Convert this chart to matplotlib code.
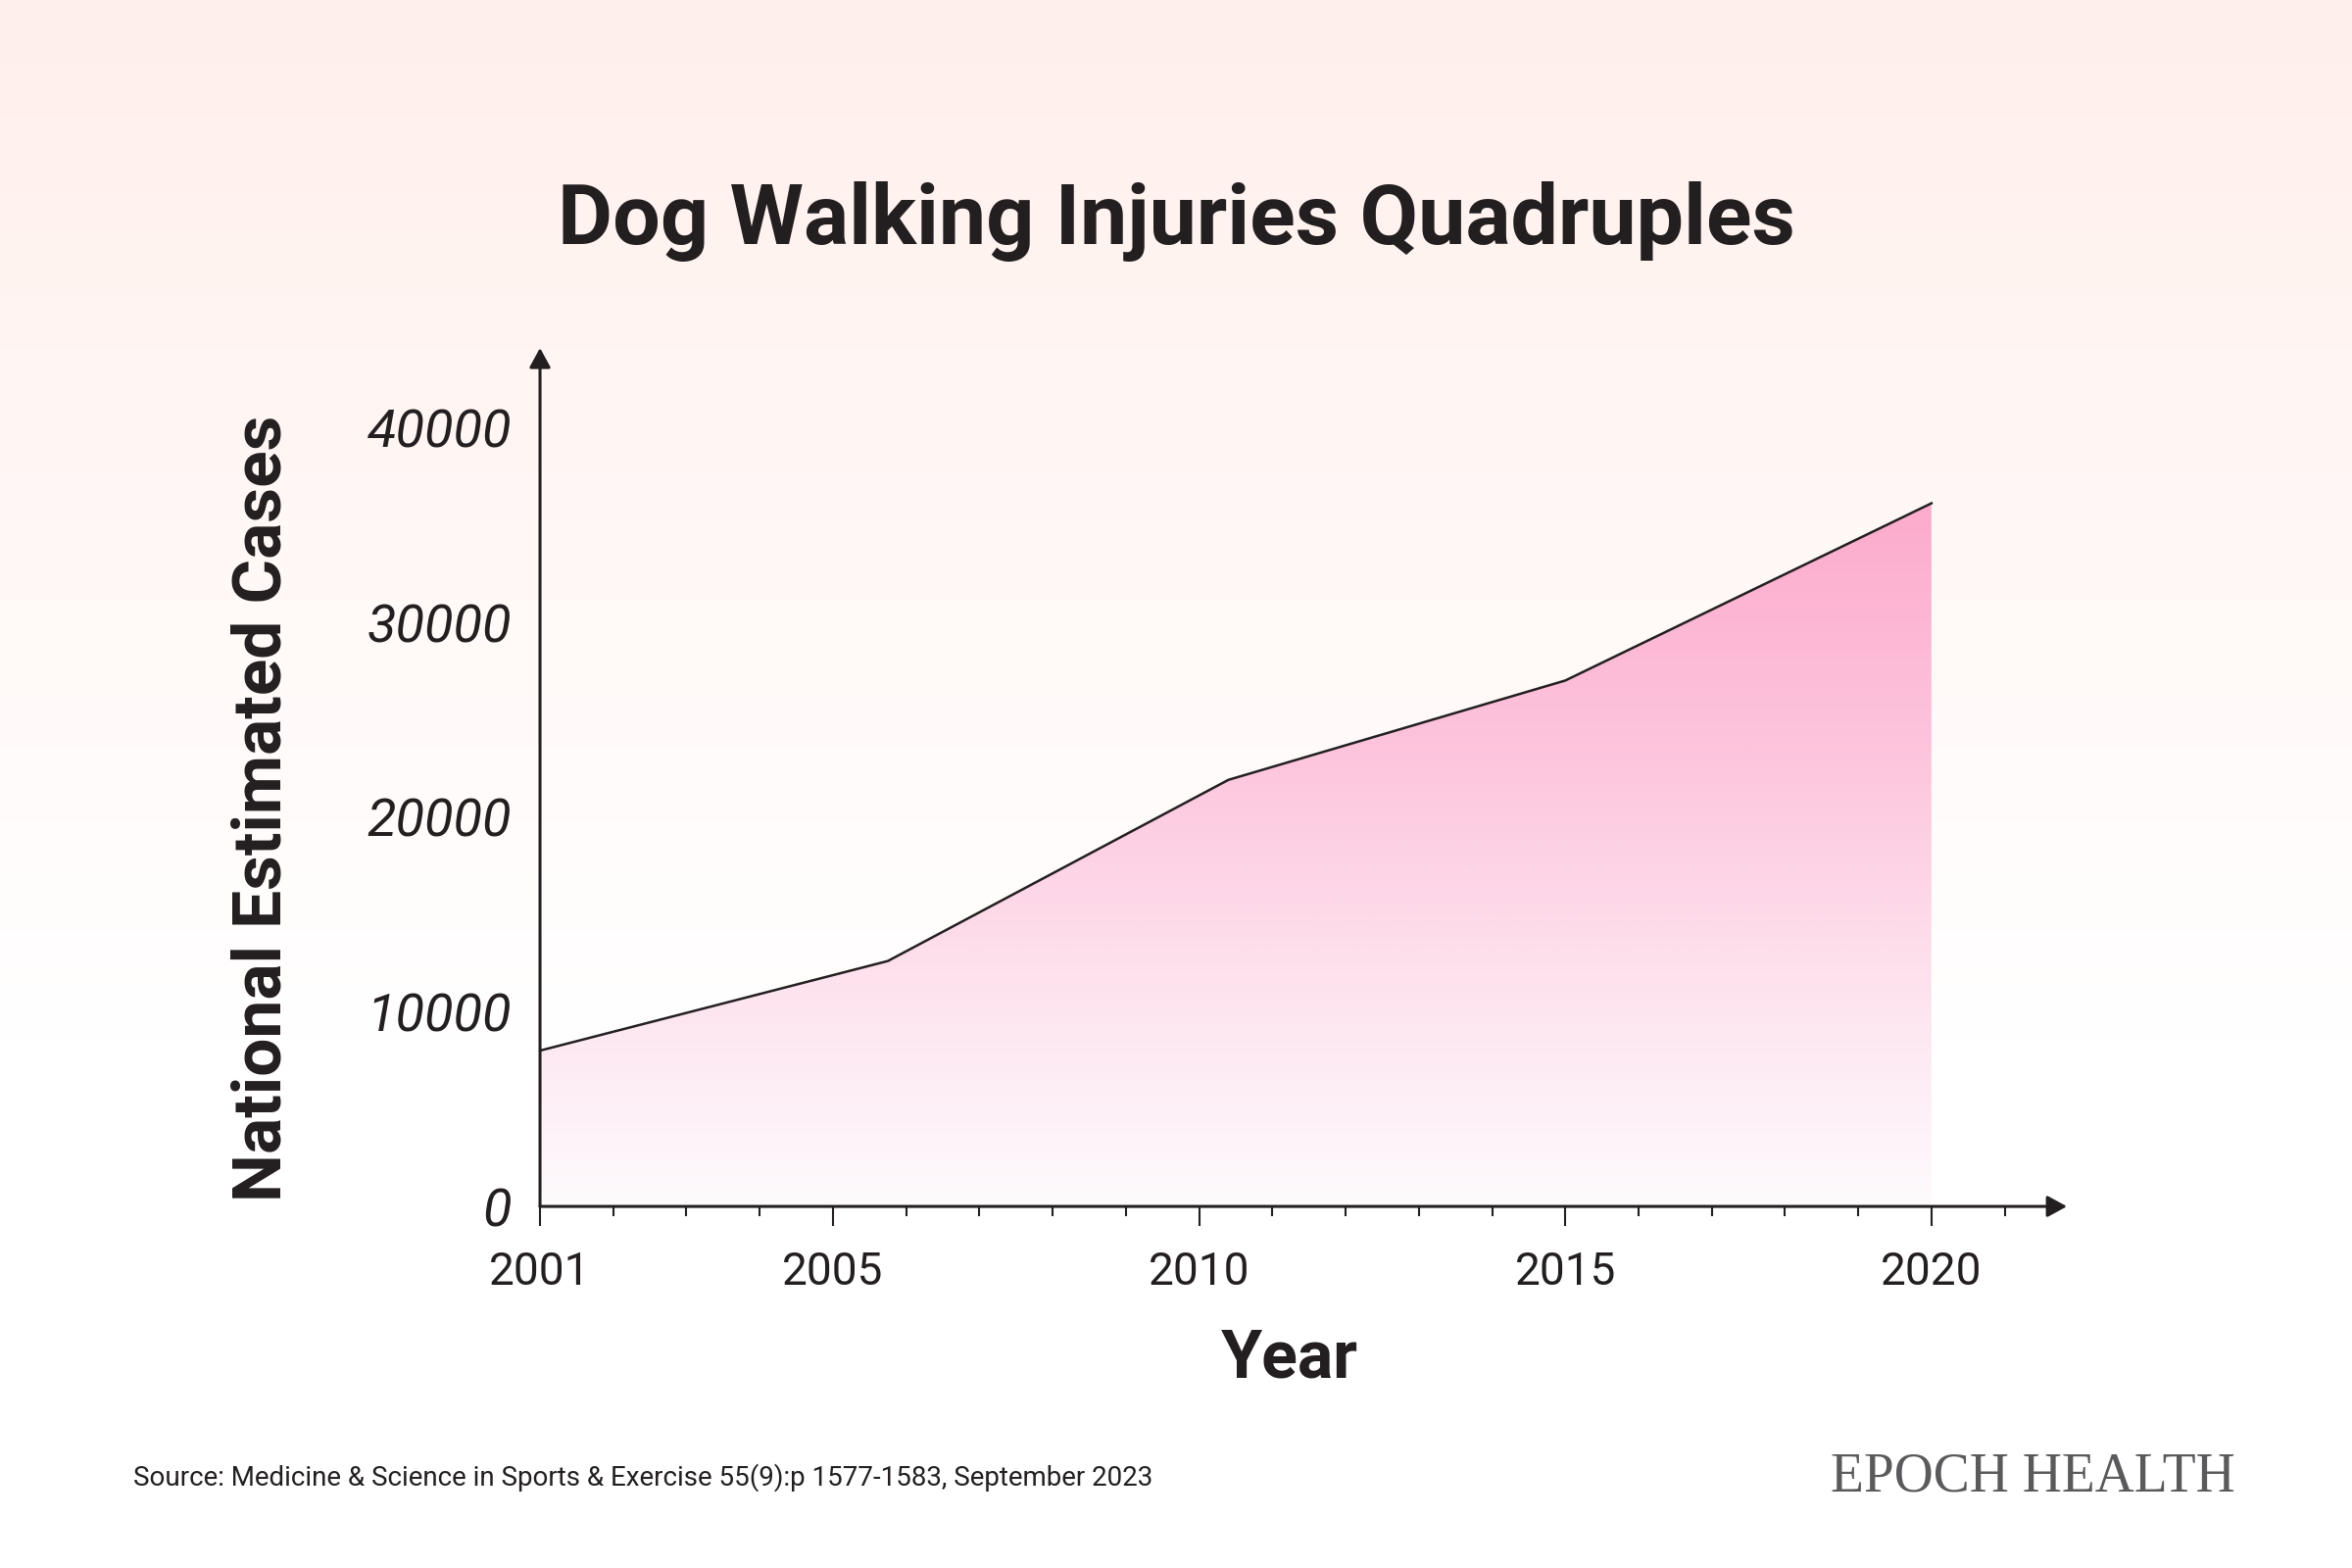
import numpy as np
import matplotlib
matplotlib.use('Agg')
import matplotlib.pyplot as plt
from matplotlib.colors import LinearSegmentedColormap
from matplotlib.ticker import FixedLocator

# data
years = [2001, 2005.75, 2010.4, 2015, 2020]
cases = [8000, 12600, 21900, 27000, 36100]
xticks = [2001, 2005, 2010, 2015, 2020]
xminor = list(range(2001, 2022))
yticks = [0, 10000, 20000, 30000, 40000]

title = 'Dog Walking Injuries Quadruples'
ylabel = 'National Estimated Cases'
xlabel = 'Year'
source = 'Source: Medicine & Science in Sports & Exercise 55(9):p 1577-1583, September 2023'
brand = 'EPOCH HEALTH'

ink = '#231f20'

fig = plt.figure(figsize=(24, 16), dpi=100)

# soft pink background fading to white
bg = fig.add_axes([0, 0, 1, 1], zorder=-1)
bg_cmap = LinearSegmentedColormap.from_list('bg', ['#ffffff', '#ffffff', '#fff8f6', '#ffefeb'])
bg.imshow(np.linspace(0, 1, 256).reshape(-1, 1), cmap=bg_cmap, aspect='auto',
          origin='lower', extent=[0, 1, 0, 1])
bg.axis('off')

ax = fig.add_axes([0.2296, 0.2306, 0.6492, 0.5475])
ax.set_facecolor('none')

# gradient area under the line
fill_cmap = LinearSegmentedColormap.from_list('pink', ['#fefbfd', '#fde1ed', '#fdc3dc', '#fcabcc'])
im = ax.imshow(np.linspace(0, 1, 256).reshape(-1, 1), cmap=fill_cmap, aspect='auto',
               origin='lower', extent=[years[0], years[-1], 0, max(cases)], zorder=1)
poly = ax.fill_between(years, cases, 0, color='none', lw=0)
im.set_clip_path(poly.get_paths()[0], transform=ax.transData)

ax.plot(years, cases, color=ink, lw=1.8, zorder=3, solid_joinstyle='miter')

ax.set_xlim(2001, 2021.85)
ax.set_ylim(0, 44075)

for s in ax.spines.values():
    s.set_visible(False)

# axis lines with arrow heads
arrow = dict(arrowstyle='-|>,head_length=0.55,head_width=0.3', color=ink, lw=2.2,
             shrinkA=0, shrinkB=0, mutation_scale=22)
ax.annotate('', xy=(0, 1), xytext=(0, 0), xycoords='axes fraction', arrowprops=arrow,
            annotation_clip=False, zorder=4)
ax.annotate('', xy=(1, 0), xytext=(0, 0), xycoords='axes fraction', arrowprops=arrow,
            annotation_clip=False, zorder=4)

ax.xaxis.set_major_locator(FixedLocator(xticks))
ax.xaxis.set_minor_locator(FixedLocator(xminor))
ax.set_xticklabels([str(t) for t in xticks])
ax.tick_params(axis='x', which='major', direction='out', length=14.5, width=1.5,
               color=ink, pad=18, labelsize=33, labelcolor=ink)
ax.tick_params(axis='x', which='minor', direction='out', length=7, width=1.5, color=ink)
for lab in ax.get_xticklabels():
    lab.set_fontfamily('Roboto')

ax.set_yticks(yticks)
ax.set_yticklabels([str(t) for t in yticks])
ax.tick_params(axis='y', length=0, pad=21, labelsize=39, labelcolor=ink)
for lab in ax.get_yticklabels():
    lab.set_fontfamily('Roboto')
    lab.set_fontstyle('italic')
    lab.set_fontweight('normal')

fig.text(0.5, 0.859, title, ha='center', va='center', fontsize=62,
         fontweight='bold', family='Roboto', color=ink)
fig.text(0.1117, 0.4844, ylabel, ha='center', va='center', rotation=90,
         fontsize=50, fontweight='bold', family='Roboto', color=ink)
fig.text(0.5485, 0.1331, xlabel, ha='center', va='center', fontsize=49,
         fontweight='bold', family='Roboto', color=ink)

fig.text(0.0567, 0.0575, source, ha='left', va='center', fontsize=20,
         fontweight='normal', family='Roboto', color=ink)
fig.text(0.9504, 0.0575, brand, ha='right', va='center', fontsize=40,
         family='Liberation Serif', color='#5a5a5c')

fig.savefig('out.png', dpi=100)
